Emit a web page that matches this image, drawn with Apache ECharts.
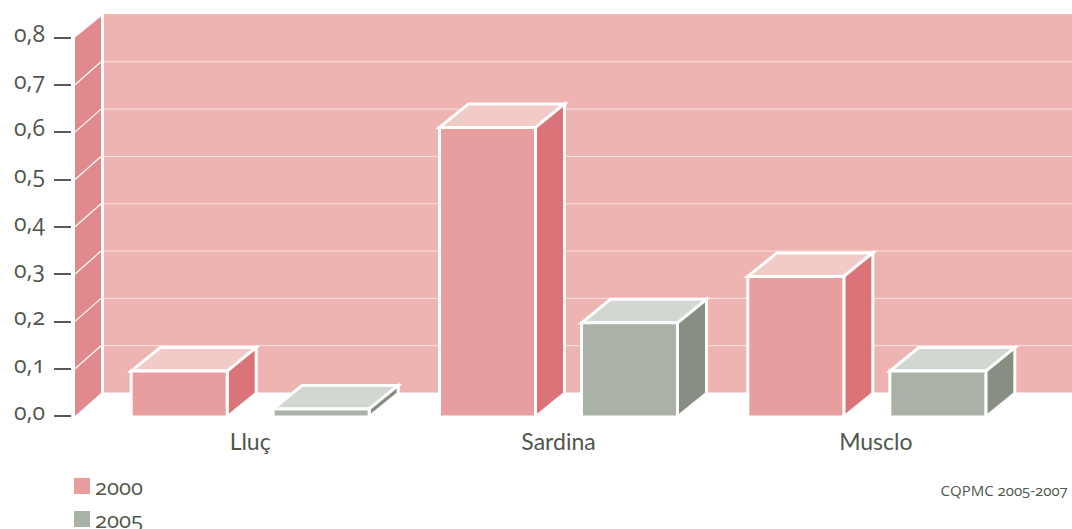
<!DOCTYPE html>
<html><head><meta charset="utf-8">
<style>
html,body{margin:0;padding:0;background:#fff}
#c{width:1072px;height:529px}
text{font-feature-settings:"onum" 1;font-variant-numeric:oldstyle-nums}
</style>
<script src="https://cdn.jsdelivr.net/npm/echarts@6/dist/echarts.min.js"></script>
</head><body><div id="c"></div>
<script>
const categories = ['Lluç', 'Sardina', 'Musclo'];
const values2000 = [0.095, 0.61, 0.295];
const values2005 = [0.015, 0.197, 0.095];
const yTicks = [0, 0.1, 0.2, 0.3, 0.4, 0.5, 0.6, 0.7, 0.8];
const sourceText = 'CQPMC 2005-2007';

const FONT = 'Lato, "Open Sans", sans-serif';
const NUMFONT = '"Open Sans", Lato, sans-serif';
const TEXT = '#4f574c';
const DX = 29, DY = 23.5, HALF = 48, OFF = 71;
const WALL_DY = 23;

function renderWall(params, api) {
  const cs = params.coordSys;
  const fx = cs.x - 21, sx = fx + 26, wx = fx + 29;
  const W = api.getWidth();
  const y0 = api.coord([0, 0])[1], yT = api.coord([0, 0.8])[1];
  const kids = [
    {type:'rect', shape:{x:wx, y:yT-WALL_DY-0.5, width:W-wx, height:y0-yT}, style:{fill:'#EDB4B2'}},
    {type:'polygon', shape:{points:[[fx,y0],[sx,y0-WALL_DY],[sx,yT-WALL_DY+2],[fx,yT]]}, style:{fill:'#E08A8D'}}
  ];
  yTicks.slice(1, -1).forEach(v => {
    const y = api.coord([0, v])[1];
    kids.push({type:'line', shape:{x1:wx, y1:y-WALL_DY, x2:W, y2:y-WALL_DY}, style:{stroke:'#fff', lineWidth:1, opacity:0.65}});
    kids.push({type:'line', shape:{x1:fx, y1:y, x2:sx, y2:y-WALL_DY}, style:{stroke:'#fff', lineWidth:1.2}});
  });
  return {type:'group', children:kids};
}

function bars(sign, front, top, side) {
  return function (params, api) {
    const p = api.coord([api.value(0), api.value(1)]);
    const b = api.coord([api.value(0), 0]);
    const l = p[0] + sign * OFF - HALF, r = l + 2 * HALF, t = p[1], bt = b[1] + 1;
    const stroke = {stroke:'#fff', lineWidth:3, lineJoin:'miter'};
    return {type:'group', children:[
      {type:'polygon', shape:{points:[[l,t],[l+DX,t-DY],[r+DX,t-DY],[r,t]]}, style:Object.assign({fill:top}, stroke)},
      {type:'polygon', shape:{points:[[r,t],[r+DX,t-DY],[r+DX,bt-DY],[r,bt]]}, style:Object.assign({fill:side}, stroke)},
      {type:'rect', shape:{x:l, y:t, width:2*HALF, height:bt-t}, style:Object.assign({fill:front}, stroke)}
    ]};
  };
}

const chart = echarts.init(document.getElementById('c'), null, {renderer:'svg'});
chart.setOption({
  animation:false,
  backgroundColor:'#fff',
  textStyle:{fontFamily:FONT},
  title:{text:sourceText, right:1, top:482, padding:0,
    textStyle:{fontFamily:NUMFONT, fontSize:15, fontWeight:'normal', color:TEXT}},
  legend:{data:['2000','2005'], orient:'vertical', left:74, top:475, height:200, padding:0,
    itemWidth:16, itemHeight:16, itemGap:11, icon:'rect',
    textStyle:{fontFamily:NUMFONT, fontSize:22, color:TEXT}},
  grid:{left:96, top:37.5, width:925, height:378.5},
  xAxis:{type:'category', data:categories,
    axisLine:{show:false}, axisTick:{show:false},
    axisLabel:{margin:13, fontFamily:FONT, fontSize:23, color:TEXT,
      formatter:v => v === 'Musclo' ? '{m|' + v + '}' : v,
      rich:{m:{fontFamily:FONT, fontSize:23, color:TEXT, padding:[0,0,0,18]}}}},
  yAxis:{type:'value', min:0, max:0.8, interval:0.1, offset:25,
    axisLine:{show:false}, splitLine:{show:false},
    axisTick:{show:true, length:17, lineStyle:{color:'#222', width:1.5}},
    axisLabel:{margin:26, color:TEXT,
      formatter:v => '{n|' + v.toFixed(1).replace('.', ',') + '}',
      rich:{n:{fontFamily:NUMFONT, fontSize:23, color:TEXT, padding:[0,0,10,0]}}}},
  series:[
    {type:'custom', name:'wall', data:[[0,0]], encode:{x:0,y:1}, z:1, silent:true, renderItem:renderWall},
    {type:'custom', name:'2000', itemStyle:{color:'#E89E9E'}, encode:{x:0,y:1}, z:2,
      data:values2000.map((v,i)=>[i,v]), renderItem:bars(-1,'#E89E9E','#F2CBC8','#DA7479')},
    {type:'custom', name:'2005', itemStyle:{color:'#AAB1A6'}, encode:{x:0,y:1}, z:3,
      data:values2005.map((v,i)=>[i,v]), renderItem:bars(1,'#AAB1A6','#D2D7D1','#888F82')}
  ]
});
</script></body></html>
